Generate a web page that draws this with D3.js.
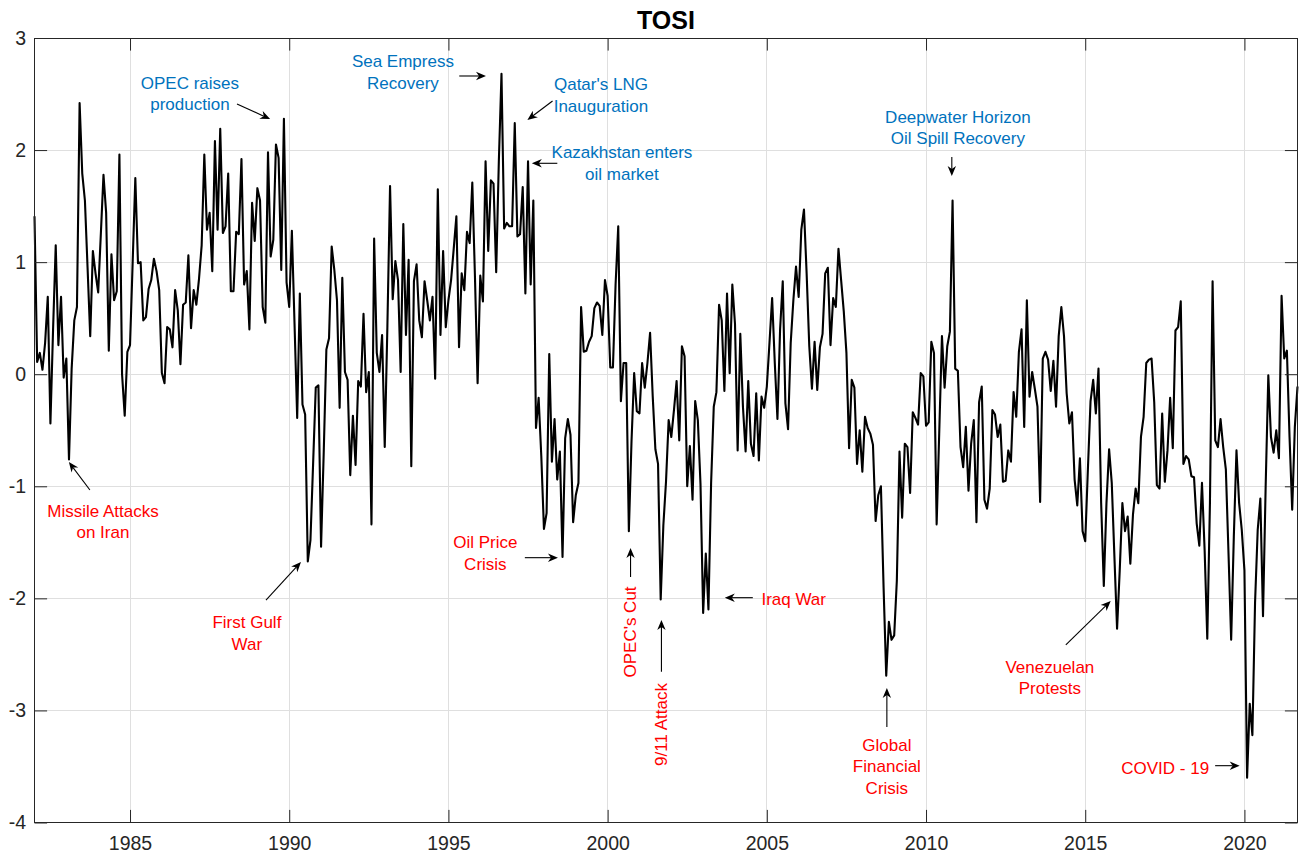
<!DOCTYPE html>
<html>
<head>
<meta charset="utf-8">
<title>TOSI</title>
<script src="https://cdn.jsdelivr.net/npm/d3@7"></script>
<style>
  html, body { margin: 0; padding: 0; background: #ffffff; }
  svg { display: block; font-family: "Liberation Sans", Arial, Helvetica, sans-serif; }
</style>
</head>
<body>
<svg id="chart" width="1306" height="858"></svg>
<script>
// Monthly TOSI index, January 1982 onward (one row per year).
const startYear = 1982;
const tosi = [
  1.41, 0.11, 0.19, 0.04, 0.28, 0.69, -0.44, 0.40, 1.15, 0.26, 0.69, -0.03,
  0.14, -0.76, 0.05, 0.48, 0.60, 2.42, 1.79, 1.55, 0.95, 0.34, 1.10, 0.90,
  0.73, 1.25, 1.78, 1.44, 0.21, 1.07, 0.66, 0.74, 1.96, 0.00, -0.37, 0.20,
  0.26, 1.00, 1.75, 0.99, 1.00, 0.48, 0.51, 0.76, 0.84, 1.03, 0.92, 0.75,
  0.01, -0.08, 0.42, 0.40, 0.24, 0.75, 0.57, 0.09, 0.62, 0.64, 1.06, 0.41,
  0.75, 0.62, 0.85, 1.15, 1.96, 1.29, 1.44, 0.92, 2.08, 1.29, 2.19, 1.26,
  1.32, 1.79, 0.74, 0.74, 1.27, 1.25, 1.92, 0.80, 0.92, 0.40, 1.53, 1.19,
  1.66, 1.55, 0.60, 0.46, 1.98, 1.05, 1.20, 2.05, 1.93, 0.93, 2.28, 0.82,
  0.60, 1.28, 0.45, -0.39, 0.72, -0.27, -0.36, -1.67, -1.48, -0.80, -0.12, -0.10,
  -1.54, -0.70, 0.22, 0.32, 1.14, 0.93, 0.66, -0.30, 0.86, 0.02, -0.05, -0.90,
  -0.37, -0.81, -0.06, -0.11, 0.54, -0.16, 0.02, -1.34, 1.21, 0.19, 0.02, 0.35,
  -0.65, 0.43, 1.68, 0.67, 1.01, 0.84, 0.02, 1.34, 0.35, 1.02, -0.82, 0.83,
  0.98, 0.48, 0.33, 0.83, 0.66, 0.48, 0.69, -0.04, 1.65, 0.35, 1.10, 0.42,
  0.66, 0.84, 1.12, 1.41, 0.24, 0.90, 0.75, 1.27, 1.17, 1.71, 0.87, -0.08,
  0.88, 0.65, 1.90, 1.10, 1.73, 1.70, 0.91, 1.90, 2.68, 1.30, 1.35, 1.32,
  1.32, 2.24, 1.23, 1.25, 1.67, 0.72, 1.90, 0.80, 1.55, -0.48, -0.21, -0.73,
  -1.38, -1.24, 0.18, -0.78, -0.40, -0.94, -0.69, -1.63, -0.57, -0.40, -0.54, -1.32,
  -1.08, -0.97, 0.60, 0.20, 0.21, 0.29, 0.34, 0.59, 0.64, 0.61, 0.35, 0.84,
  0.70, 0.06, 0.06, 0.80, 1.32, -0.24, 0.10, 0.10, -1.40, -0.60, 0.01, -0.33,
  -0.35, 0.10, -0.12, 0.10, 0.37, -0.20, -0.67, -0.80, -2.01, -1.35, -0.96, -0.41,
  -0.56, -0.32, -0.06, -0.59, 0.25, 0.16, -1.00, -0.64, -1.12, -0.24, -0.41, -0.98,
  -2.13, -1.60, -2.10, -0.97, -0.29, -0.16, 0.62, 0.48, -0.15, 0.72, 0.01, 0.80,
  0.45, -0.68, 0.36, -0.29, -0.69, -0.06, -0.62, -0.73, -0.17, -0.77, -0.20, -0.30,
  -0.11, 0.28, 0.68, 0.10, -0.40, 0.40, 0.83, -0.26, -0.49, 0.28, 0.66, 0.96,
  0.69, 1.29, 1.47, 0.90, 0.25, -0.13, 0.29, -0.14, 0.24, 0.36, 0.90, 0.95,
  0.26, 0.68, 0.60, 1.12, 0.84, 0.56, 0.19, -0.66, -0.05, -0.12, -0.80, -0.50,
  -0.87, -0.38, -0.48, -0.53, -0.63, -1.31, -1.08, -1.00, -1.90, -2.69, -2.21, -2.37,
  -2.33, -1.84, -0.69, -1.28, -0.62, -0.65, -1.06, -0.34, -0.39, -0.45, 0.01, -0.02,
  -0.46, -0.43, 0.29, 0.19, -1.34, -0.50, 0.34, -0.12, 0.25, 0.38, 1.55, 0.05,
  0.03, -0.65, -0.83, -0.47, -1.04, -0.62, -0.41, -1.32, -0.25, -0.11, -1.12, -1.20,
  -1.02, -0.32, -0.36, -0.56, -0.45, -0.96, -0.95, -0.68, -0.78, -0.16, -0.38, 0.20,
  0.40, -0.47, 0.66, -0.20, 0.02, -0.13, -0.29, -1.14, 0.14, 0.20, 0.13, -0.15,
  0.12, -0.29, 0.34, 0.60, 0.34, -0.17, -0.44, -0.34, -0.94, -1.17, -0.75, -1.40,
  -1.49, -0.85, -0.24, -0.05, -0.35, 0.05, -1.15, -1.89, -1.15, -0.67, -0.97, -1.63,
  -2.27, -1.75, -1.15, -1.40, -1.27, -1.69, -1.25, -1.02, -1.15, -0.56, -0.38, 0.10,
  0.13, 0.14, -0.25, -0.99, -1.02, -0.35, -0.96, -0.68, -0.21, -0.66, 0.39, 0.42,
  0.65, -0.80, -0.73, -0.76, -0.91, -0.92, -1.33, -1.53, -0.97, -1.57, -2.36, -1.15,
  0.83, -0.59, -0.65, -0.40, -0.65, -0.85, -1.60, -2.37, -1.45, -0.68, -1.15, -1.39,
  -1.75, -3.60, -2.94, -3.22, -2.04, -1.39, -1.11, -2.16, -1.00, -0.01, -0.56, -0.70,
  -0.50, -0.75, 0.70, 0.14, 0.21, -0.56, -1.21, -0.47, -0.11
];

const xTickYears = [1985, 1990, 1995, 2000, 2005, 2010, 2015, 2020];
const yTickValues = [-4, -3, -2, -1, 0, 1, 2, 3];
const chartTitle = "TOSI";

// Event labels: text anchored in (year, index) space, arrow from tail to head.
const eventLabels = [
  { lines: ["OPEC raises", "production"], tone: "up", at: [1986.88, 2.545], align: "middle", arrow: [[1988.36, 2.411], [1989.40, 2.277]] },
  { lines: ["Sea Empress", "Recovery"], tone: "up", at: [1993.57, 2.739], align: "middle", arrow: [[1995.34, 2.661], [1996.18, 2.661]] },
  { lines: ["Qatar's LNG", "Inauguration"], tone: "up", at: [1999.79, 2.536], align: "middle", arrow: [[1998.27, 2.438], [1997.48, 2.268]] },
  { lines: ["Kazakhstan enters", "oil market"], tone: "up", at: [2000.45, 1.929], align: "middle", arrow: [[1998.42, 1.882], [1997.62, 1.882]] },
  { lines: ["Deepwater Horizon", "Oil Spill Recovery"], tone: "up", at: [2011.00, 2.242], align: "middle", arrow: [[2010.81, 1.938], [2010.81, 1.769]] },
  { lines: ["Missile Attacks", "on Iran"], tone: "down", at: [1984.15, -1.274], align: "middle", arrow: [[1983.74, -1.033], [1983.08, -0.783]] },
  { lines: ["First Gulf", "War"], tone: "down", at: [1988.67, -2.265], align: "middle", arrow: [[1989.27, -2.015], [1990.37, -1.676]] },
  { lines: ["Oil Price", "Crisis"], tone: "down", at: [1996.16, -1.551], align: "middle", arrow: [[1997.40, -1.637], [1998.44, -1.637]] },
  { lines: ["OPEC's Cut"], tone: "down", at: [2000.89, -2.300], align: "middle", vertical: true, arrow: [[2000.72, -1.809], [2000.72, -1.551]] },
  { lines: ["9/11 Attack"], tone: "down", at: [2001.86, -3.126], align: "middle", vertical: true, arrow: [[2001.69, -2.654], [2001.69, -2.193]] },
  { lines: ["Iraq War"], tone: "down", at: [2004.83, -2.059], align: "start", arrow: [[2004.56, -1.994], [2003.68, -1.994]] },
  { lines: ["Global", "Financial", "Crisis"], tone: "down", at: [2008.77, -3.362], align: "middle", arrow: [[2008.77, -3.148], [2008.77, -2.800]] },
  { lines: ["Venezuelan", "Protests"], tone: "down", at: [2013.89, -2.666], align: "middle", arrow: [[2014.39, -2.416], [2015.80, -2.024]] },
  { lines: ["COVID - 19"], tone: "down", at: [2018.89, -3.567], align: "end", arrow: [[2019.08, -3.493], [2019.85, -3.493]] }
];

const toneColor = { up: "#0072BD", down: "#FF0000" };

const svg = d3.select("#chart");
const W = 1306, H = 858;
const plot = { left: 34.5, right: 1297.5, top: 38, bottom: 822.5 };
const axisColor = "#262626";
const tickLen = 12.6;

const series = tosi.map((v, i) => ({ t: startYear + i / 12, v }));

const x = d3.scaleLinear()
  .domain([startYear, startYear + (tosi.length - 1) / 12])
  .range([plot.left, plot.right]);
const y = d3.scaleLinear()
  .domain([-4, 3])
  .range([plot.bottom, plot.top]);

svg.append("rect").attr("width", W).attr("height", H).attr("fill", "#ffffff");

// Grid
const grid = svg.append("g").attr("class", "grid")
  .attr("stroke", "#dfdfdf").attr("stroke-width", 1).attr("shape-rendering", "crispEdges");
grid.selectAll("line.gx").data(xTickYears).join("line")
  .attr("class", "gx")
  .attr("x1", d => x(d)).attr("x2", d => x(d))
  .attr("y1", plot.top).attr("y2", plot.bottom);
grid.selectAll("line.gy").data(yTickValues).join("line")
  .attr("class", "gy")
  .attr("x1", plot.left).attr("x2", plot.right)
  .attr("y1", d => y(d)).attr("y2", d => y(d));

// Series line
const line = d3.line().x(d => x(d.t)).y(d => y(d.v));
svg.append("path")
  .datum(series)
  .attr("fill", "none")
  .attr("stroke", "#000000")
  .attr("stroke-width", 2.1)
  .attr("stroke-linejoin", "round")
  .attr("d", line);

// Axes with inward ticks on all four sides
function styleAxis(g) {
  g.select(".domain").remove();
  g.selectAll(".tick line").attr("stroke", axisColor).attr("stroke-width", 1);
  g.selectAll(".tick text").attr("fill", axisColor).attr("font-size", "19.5px")
    .attr("font-family", "'Liberation Sans', Arial, Helvetica, sans-serif");
}

const plainNumber = d => String(d);

svg.append("g")
  .attr("transform", `translate(0,${plot.bottom})`)
  .call(d3.axisBottom(x).tickValues(xTickYears).tickFormat(plainNumber)
    .tickSizeInner(-tickLen).tickSizeOuter(0).tickPadding(13.5))
  .call(styleAxis);

svg.append("g")
  .attr("transform", `translate(0,${plot.top})`)
  .call(d3.axisTop(x).tickValues(xTickYears).tickFormat("")
    .tickSizeInner(-tickLen).tickSizeOuter(0))
  .call(styleAxis);

svg.append("g")
  .attr("transform", `translate(${plot.left},0)`)
  .call(d3.axisLeft(y).tickValues(yTickValues).tickFormat(plainNumber)
    .tickSizeInner(-tickLen).tickSizeOuter(0).tickPadding(8.5))
  .call(styleAxis);

svg.append("g")
  .attr("transform", `translate(${plot.right},0)`)
  .call(d3.axisRight(y).tickValues(yTickValues).tickFormat("")
    .tickSizeInner(-tickLen).tickSizeOuter(0))
  .call(styleAxis);

// Box
svg.append("rect")
  .attr("x", plot.left).attr("y", plot.top)
  .attr("width", plot.right - plot.left).attr("height", plot.bottom - plot.top)
  .attr("fill", "none").attr("stroke", axisColor).attr("stroke-width", 1)
  .attr("shape-rendering", "crispEdges");

// Title
svg.append("text")
  .attr("x", (plot.left + plot.right) / 2)
  .attr("y", 28.5)
  .attr("text-anchor", "middle")
  .attr("font-size", "25px")
  .attr("font-weight", "bold")
  .attr("fill", "#000000")
  .text(chartTitle);

// Event labels and arrows
const notes = svg.append("g").attr("class", "events");
const lineGap = 21.5;
const headLen = 10, headHalf = 4.2;

eventLabels.forEach(ev => {
  const px = x(ev.at[0]), py = y(ev.at[1]);
  const t = notes.append("text")
    .attr("fill", toneColor[ev.tone])
    .attr("font-size", "17px")
    .attr("text-anchor", ev.align);
  if (ev.vertical) {
    t.attr("transform", `translate(${px},${py}) rotate(-90)`);
  } else {
    t.attr("transform", `translate(${px},${py})`);
  }
  ev.lines.forEach((s, k) => {
    t.append("tspan").attr("x", 0).attr("y", k * lineGap).text(s);
  });

  const [a, b] = ev.arrow;
  const x0 = x(a[0]), y0 = y(a[1]), x1 = x(b[0]), y1 = y(b[1]);
  const ang = Math.atan2(y1 - y0, x1 - x0);
  const ux = Math.cos(ang), uy = Math.sin(ang);
  const bx = x1 - ux * headLen * 0.7, by = y1 - uy * headLen * 0.7;
  notes.append("line")
    .attr("x1", x0).attr("y1", y0).attr("x2", bx).attr("y2", by)
    .attr("stroke", "#000000").attr("stroke-width", 1.1);
  const backX = x1 - ux * headLen, backY = y1 - uy * headLen;
  const pts = [
    [x1, y1],
    [backX - uy * headHalf, backY + ux * headHalf],
    [bx, by],
    [backX + uy * headHalf, backY - ux * headHalf]
  ];
  notes.append("path")
    .attr("d", "M" + pts.map(p => p.join(",")).join("L") + "Z")
    .attr("fill", "#000000");
});
</script>
</body>
</html>
